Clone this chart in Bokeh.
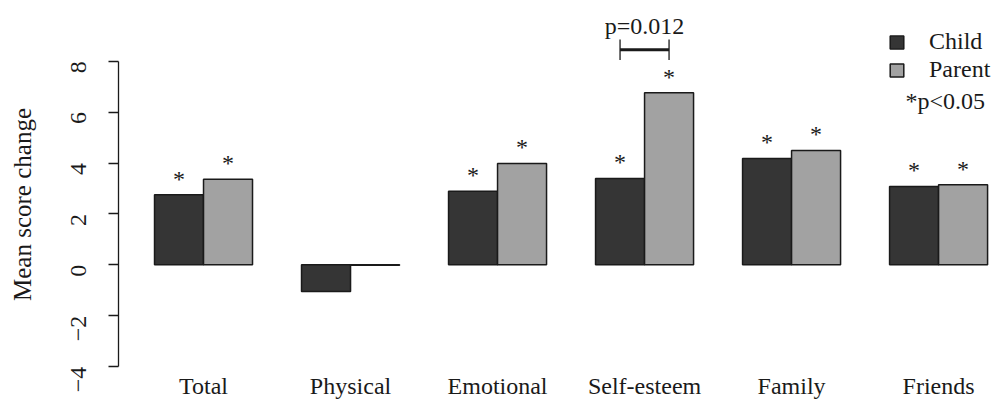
import math
from bokeh.plotting import figure
from bokeh.models import (Range1d, FixedTicker, LinearAxis, Legend, LegendItem,
                          Label, ColumnDataSource)
from bokeh.embed import file_html
from bokeh.resources import INLINE
from bokeh.core.properties import value

# ---------------- data ----------------
categories = ["Total", "Physical", "Emotional", "Self-esteem", "Family", "Friends"]
child = [2.75, -1.05, 2.89, 3.39, 4.18, 3.08]
parent = [3.36, -0.02, 3.98, 6.76, 4.49, 3.15]
child_sig = [True, False, True, True, True, True]
parent_sig = [True, False, True, True, True, True]
y_ticks = [-4, -2, 0, 2, 4, 6, 8]
series_names = ["Child", "Parent"]
y_title = "Mean score change"
comparison_group = "Self-esteem"
comparison_label = "p=0.012"
sig_note = "*p<0.05"

# ---------------- styling ----------------
FONT = "Liberation Serif"
TXT = "#1a1a1a"
CHILD_COL = "#353535"
PARENT_COL = "#a2a2a2"

n = len(categories)
child_x = [3 * i + 1.5 for i in range(n)]
parent_x = [3 * i + 2.5 for i in range(n)]
group_x = [3 * i + 2 for i in range(n)]

p = figure(frame_width=873, frame_height=390,
           x_range=Range1d(0.265, 18.08), y_range=Range1d(-5.29, 10.03),
           output_backend="svg", toolbar_location=None,
           x_axis_type=None, y_axis_type=None,
           min_border_left=118, min_border_top=9, min_border_right=0,
           min_border_bottom=0, outline_line_color=None)

# y axis
yaxis = LinearAxis(ticker=FixedTicker(ticks=y_ticks), bounds=(-4, 8),
                   axis_label=y_title)
yaxis.axis_line_width = 1.3
yaxis.axis_line_color = TXT
yaxis.major_tick_line_color = TXT
yaxis.major_tick_line_width = 1.3
yaxis.major_tick_out = 10
yaxis.major_tick_in = 0
yaxis.minor_tick_line_color = None
yaxis.major_label_orientation = math.pi / 2
yaxis.major_label_text_font = FONT
yaxis.major_label_text_font_size = "24px"
yaxis.major_label_text_color = TXT
yaxis.major_label_standoff = 30
yaxis.axis_label_text_font = FONT
yaxis.axis_label_text_font_size = "25px"
yaxis.axis_label_text_font_style = "normal"
yaxis.axis_label_text_color = TXT
yaxis.axis_label_standoff = 25
p.add_layout(yaxis, "left")

# category labels under each group
p.text(x=group_x, y=[-4.76] * n, text=categories, text_font=value(FONT),
       text_font_size="24px", text_align="center", text_baseline="alphabetic",
       text_color=TXT)

# bars
src_c = ColumnDataSource(dict(x=child_x, top=child))
src_p = ColumnDataSource(dict(x=parent_x, top=parent))
r_c = p.vbar(x="x", top="top", bottom=0, width=1, source=src_c,
             fill_color=CHILD_COL, line_color=TXT, line_width=1.5)
r_p = p.vbar(x="x", top="top", bottom=0, width=1, source=src_p,
             fill_color=PARENT_COL, line_color=TXT, line_width=1.5)

# significance stars
star_off = 0.63
sx = [x for x, s in zip(child_x, child_sig) if s] + [x for x, s in zip(parent_x, parent_sig) if s]
sy = [v + star_off for v, s in zip(child, child_sig) if s] + [v + star_off for v, s in zip(parent, parent_sig) if s]
p.text(x=sx, y=sy, text=["*"] * len(sx), text_font=value(FONT),
       text_font_size="24px", text_align="center", text_baseline="alphabetic",
       text_color=TXT)

# comparison bracket
gi = categories.index(comparison_group)
bx0, bx1 = child_x[gi], parent_x[gi]
by, bh = 8.45, 0.4
p.segment(x0=[bx0], y0=[by], x1=[bx1], y1=[by], line_color=TXT, line_width=3)
p.segment(x0=[bx0, bx1], y0=[by - bh, by - bh], x1=[bx0, bx1], y1=[by + bh, by + bh],
          line_color=TXT, line_width=1.3)
p.text(x=[group_x[gi]], y=[9.4], text=[comparison_label], text_font=value(FONT),
       text_font_size="24px", text_align="center", text_baseline="alphabetic",
       text_color=TXT)

# legend
legend = Legend(items=[LegendItem(label=series_names[0], renderers=[r_c]),
                       LegendItem(label=series_names[1], renderers=[r_p])],
                location=(770, 316))
legend.glyph_width = 17
legend.glyph_height = 16
legend.label_standoff = 24
legend.spacing = 1
legend.padding = 0
legend.margin = 0
legend.border_line_color = None
legend.background_fill_alpha = 0
legend.label_text_font = FONT
legend.label_text_font_size = "24px"
legend.label_text_color = TXT
p.add_layout(legend, "center")

p.add_layout(Label(x=787, y=299, x_units="screen", y_units="screen", text=sig_note,
                   text_font=FONT, text_font_size="24px", text_color=TXT,
                   text_baseline="alphabetic"))

open("out.html", "w").write(file_html(p, INLINE))
